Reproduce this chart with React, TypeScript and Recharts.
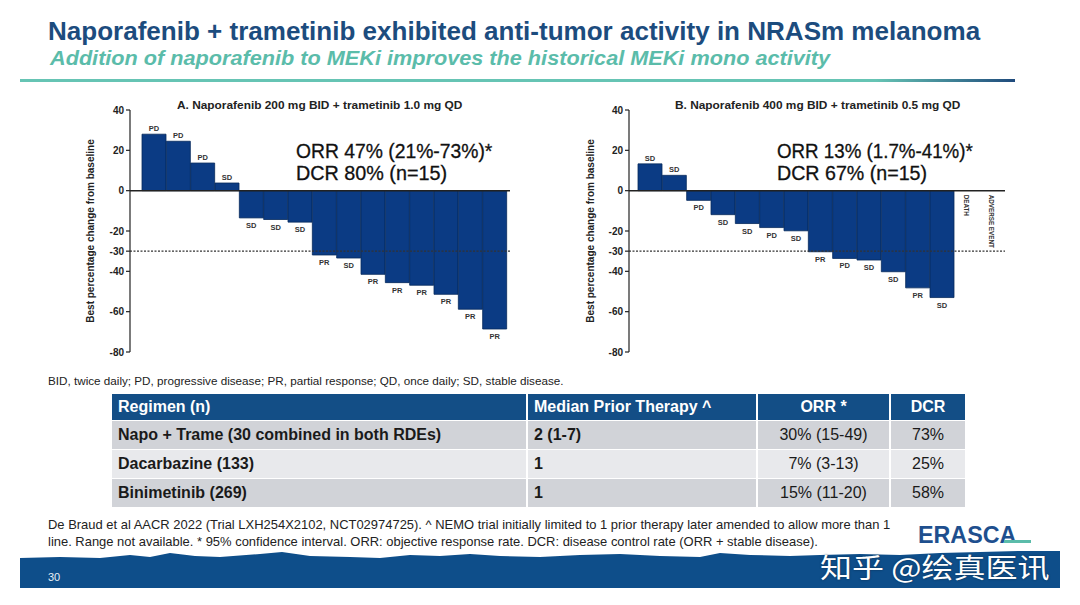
import React, { useLayoutEffect, useRef, useState } from 'react';
import { BarChart, Bar, XAxis, YAxis, ReferenceLine, ReferenceDot, LabelList } from 'recharts';

const FONT = '"Liberation Sans", Arial, sans-serif';

// best % change from baseline
const aChange = [28, 24.5, 13.7, 3.8, -13.5, -14.3, -15.6, -31.9, -33.4, -41.5, -45.6, -46.9, -51.4, -58.8, -68.6];
const aResponse = ['PD', 'PD', 'PD', 'SD', 'SD', 'SD', 'SD', 'PR', 'SD', 'PR', 'PR', 'PR', 'PR', 'PR', 'PR'];

// last two patients not evaluable (no bar)
const bChange = [13.3, 7.6, -4.8, -11.9, -16.3, -18.3, -19.9, -30.3, -33.6, -34.4, -40.2, -48.2, -53, null, null];
const bResponse = ['SD', 'SD', 'PD', 'SD', 'SD', 'PD', 'SD', 'PR', 'PD', 'SD', 'SD', 'PR', 'SD', '', ''];
const bNotes = ['', '', '', '', '', '', '', '', '', '', '', '', '', 'DEATH', 'ADVERSE EVENT'];

const yTicks = [40, 20, 0, -20, -30, -40, -60, -80];

const tableHead = ['Regimen (n)', 'Median Prior Therapy ^', 'ORR *', 'DCR'];
const regimens = ['Napo + Trame (30 combined in both RDEs)', 'Dacarbazine (133)', 'Binimetinib (269)'];
const priorTherapy = ['2 (1-7)', '1', '1'];
const orr = ['30% (15-49)', '7% (3-13)', '15% (11-20)'];
const dcr = ['73%', '25%', '58%'];

type Row = { id: string; change: number | null; resp: string; note: string };

const rowsA: Row[] = aChange.map((c, i) => ({ id: 'A' + (i + 1), change: c, resp: aResponse[i], note: '' }));
const rowsB: Row[] = bChange.map((c, i) => ({ id: 'B' + (i + 1), change: c, resp: bResponse[i], note: bNotes[i] }));

// stretches/squeezes a single line of text to an exact width
const Fit = ({ w, style, children }: { w: number; style?: React.CSSProperties; children: React.ReactNode }) => {
  const ref = useRef<HTMLSpanElement>(null);
  const [s, setS] = useState(1);
  useLayoutEffect(() => {
    const nat = ref.current ? ref.current.offsetWidth : 0;
    if (nat) setS(w / nat);
  }, [w]);
  return (
    <span
      ref={ref}
      style={{
        display: 'inline-block',
        whiteSpace: 'nowrap',
        transformOrigin: 'left center',
        transform: `scaleX(${s})`,
        lineHeight: 1,
        ...style,
      }}
    >
      {children}
    </span>
  );
};

const At = ({ x, y, children }: { x: number; y: number; children: React.ReactNode }) => (
  <div style={{ position: 'absolute', left: x, top: y }}>{children}</div>
);

const respLabel = (rows: Row[]) => (p: any) => {
  const r = rows[p.index];
  if (!r || r.change == null) return null;
  const x = Number(p.x), y = Number(p.y), w = Number(p.width), h = Number(p.height);
  const cx = x + w / 2;
  const top = Math.min(y, y + h);
  const bot = Math.max(y, y + h);
  const common = { fontSize: 7.5, fontWeight: 700, fill: '#333', fontFamily: FONT };
  if (r.change >= 0) {
    return <text x={cx} y={top - 3} textAnchor="middle" {...common}>{r.resp}</text>;
  }
  return <text x={cx} y={bot + 10} textAnchor="middle" {...common}>{r.resp}</text>;
};

// vertical note for patients without a measurement, hung just under the zero line
const noteLabel = (text: string) => (p: any) => {
  const vb = p.viewBox || {};
  const cx = vb.x + vb.width / 2;
  const cy = vb.y + vb.height / 2;
  return (
    <text
      transform={`translate(${cx - 2.3},${cy + 4}) rotate(90)`}
      fontSize={6.3}
      fontWeight={700}
      fill="#333"
      fontFamily={FONT}
    >
      {text}
    </text>
  );
};

const yLabel = (p: any) => {
  const vb = p.viewBox || {};
  const x = vb.x + 13.5;
  const y = vb.y + vb.height / 2;
  return (
    <text
      x={x}
      y={y}
      transform={`rotate(-90, ${x}, ${y})`}
      textAnchor="middle"
      fontSize={10}
      fontWeight={700}
      fill="#222"
      fontFamily={FONT}
    >
      Best percentage change from baseline
    </text>
  );
};

const Waterfall = ({ rows, left, yw, right, padL, padR }: { rows: Row[]; left: number; yw: number; right: number; padL: number; padR: number }) => (
  <div style={{ position: 'absolute', left, top: 95 }}>
    <BarChart width={440} height={270} data={rows} margin={{ top: 15, right, bottom: 13, left: 0 }} barCategoryGap={0}>
      <XAxis dataKey="id" hide padding={{ left: padL, right: padR }} />
      <YAxis
        domain={[-80, 40]}
        ticks={yTicks}
        interval={0}
        width={yw}
        tickSize={4}
        tick={{ fontSize: 10, fontWeight: 700, fill: '#222', fontFamily: FONT }}
        axisLine={{ stroke: '#222', strokeWidth: 1.2 }}
        tickLine={{ stroke: '#222', strokeWidth: 1.2 }}
        label={yLabel}
      />
      <ReferenceLine y={-30} stroke="#333" strokeWidth={1.2} strokeDasharray="2 1.5" />
      <Bar dataKey="change" fill="#0b3b84" stroke="#06295c" strokeWidth={0.8} isAnimationActive={false}>
        <LabelList dataKey="resp" content={respLabel(rows)} />
      </Bar>
      <ReferenceLine y={0} stroke="#222" strokeWidth={1.5} />
      {rows
        .filter((r) => r.note)
        .map((r) => (
          <ReferenceDot
            key={r.id}
            x={r.id}
            y={0}
            r={1}
            fill="none"
            stroke="none"
            label={noteLabel(r.note)}
          />
        ))}
    </BarChart>
  </div>
);

const cell = (extra: React.CSSProperties): React.CSSProperties => ({
  borderLeft: '2px solid #fff',
  borderRight: '2px solid #fff',
  borderTop: '1px solid #fff',
  padding: '0 6px',
  whiteSpace: 'nowrap',
  ...extra,
});

export default function App() {
  return (
    <div
      style={{
        position: 'absolute',
        left: 0,
        top: 0,
        width: 1080,
        height: 605,
        background: '#fff',
        overflow: 'hidden',
        fontFamily: FONT,
      }}
    >
      <At x={48} y={18}>
        <Fit w={932} style={{ fontSize: 26, fontWeight: 700, color: '#1c4c7e' }}>
          Naporafenib + trametinib exhibited anti-tumor activity in NRASm melanoma
        </Fit>
      </At>
      <At x={50} y={48}>
        <Fit w={780} style={{ fontSize: 20, fontWeight: 700, fontStyle: 'italic', color: '#5bbcaa' }}>
          Addition of naporafenib to MEKi improves the historical MEKi mono activity
        </Fit>
      </At>
      <div
        style={{
          position: 'absolute',
          left: 20,
          top: 79,
          width: 995,
          height: 3,
          background: 'linear-gradient(to right, #66c4b4 0%, #66c4b4 86%, #1f4a7c 100%)',
        }}
      />

      <Waterfall rows={rowsA} left={80} yw={50} right={10} padL={12} padR={3} />
      <Waterfall rows={rowsB} left={580} yw={49} right={15} padL={9} padR={2} />

      <At x={177} y={95}>
        <Fit w={285} style={{ fontSize: 11, fontWeight: 700, color: '#222' }}>
          A. Naporafenib 200 mg BID + trametinib 1.0 mg QD
        </Fit>
      </At>
      <At x={675} y={95}>
        <Fit w={285} style={{ fontSize: 11, fontWeight: 700, color: '#222' }}>
          B. Naporafenib 400 mg BID + trametinib 0.5 mg QD
        </Fit>
      </At>

      <At x={296} y={142}>
        <Fit w={196} style={{ fontSize: 19.5, color: '#111', WebkitTextStroke: '0.3px #111' }}>ORR 47% (21%-73%)*</Fit>
      </At>
      <At x={296} y={164}>
        <Fit w={151} style={{ fontSize: 19.5, color: '#111', WebkitTextStroke: '0.3px #111' }}>DCR 80% (n=15)</Fit>
      </At>
      <At x={777} y={142}>
        <Fit w={196} style={{ fontSize: 19.5, color: '#111', WebkitTextStroke: '0.3px #111' }}>ORR 13% (1.7%-41%)*</Fit>
      </At>
      <At x={777} y={164}>
        <Fit w={150} style={{ fontSize: 19.5, color: '#111', WebkitTextStroke: '0.3px #111' }}>DCR 67% (n=15)</Fit>
      </At>

      <At x={48} y={371}>
        <Fit w={515} style={{ fontSize: 11, color: '#222' }}>
          BID, twice daily; PD, progressive disease; PR, partial response; QD, once daily; SD, stable disease.
        </Fit>
      </At>

      <table
        style={{
          position: 'absolute',
          left: 110,
          top: 394,
          width: 855,
          borderCollapse: 'collapse',
          tableLayout: 'fixed',
          fontFamily: FONT,
          fontSize: 16,
          color: '#1a1a1a',
        }}
      >
        <colgroup>
          <col style={{ width: 416 }} />
          <col style={{ width: 230 }} />
          <col style={{ width: 133 }} />
          <col style={{ width: 76 }} />
        </colgroup>
        <thead>
          <tr style={{ height: 26, background: '#134e86', color: '#fff', fontWeight: 700 }}>
            {tableHead.map((h, i) => (
              <td key={h} style={cell({ textAlign: i >= 2 ? 'center' : 'left', borderTop: 'none' })}>
                {h}
              </td>
            ))}
          </tr>
        </thead>
        <tbody>
          {regimens.map((r, i) => (
            <tr key={r} style={{ height: 29, background: i % 2 === 0 ? '#d1d3d8' : '#e8e9ec' }}>
              <td style={cell({ fontWeight: 700 })}>{r}</td>
              <td style={cell({ fontWeight: 700 })}>{priorTherapy[i]}</td>
              <td style={cell({ textAlign: 'center' })}>{orr[i]}</td>
              <td style={cell({ textAlign: 'center' })}>{dcr[i]}</td>
            </tr>
          ))}
        </tbody>
      </table>

      <At x={48} y={515}>
        <Fit w={842} style={{ fontSize: 13, color: '#222' }}>
          De Braud et al AACR 2022 (Trial LXH254X2102, NCT02974725). ^ NEMO trial initially limited to 1 prior therapy later amended to allow more than 1
        </Fit>
      </At>
      <At x={48} y={532}>
        <Fit w={770} style={{ fontSize: 13, color: '#222' }}>
          line. Range not available. * 95% confidence interval. ORR: objective response rate. DCR: disease control rate (ORR + stable disease).
        </Fit>
      </At>

      <svg style={{ position: 'absolute', left: 20, top: 546 }} width={1040} height={42}>
        <path
          d="M0,12 L40,11 L80,12 L110,9 L130,11 L150,7 L175,10 L200,11 L240,8 L262,6 L290,10 L330,11 L360,12 L390,9 L420,10 L450,8 L480,10 L520,11 L560,9 L600,8 L640,10 L680,11 L700,7 L730,9 L770,10 L800,9 L840,8 L880,9 L920,7 L960,6 L1000,5 L1040,5 L1040,42 L0,42 Z"
          fill="#0e4e8a"
        />
      </svg>
      <At x={48} y={567}>
        <span style={{ fontSize: 11, color: '#e8eef5' }}>30</span>
      </At>

      <At x={918} y={523}>
        <Fit w={98} style={{ fontSize: 24, fontWeight: 700, color: '#1e4f8e' }}>ERASCA</Fit>
      </At>
      <div style={{ position: 'absolute', left: 1004, top: 540, width: 27, height: 3, background: '#5bbcaa' }} />

      <At x={820} y={553}>
        <Fit
          w={230}
          style={{
            fontSize: 27,
            color: '#fff',
            fontFamily: '"Noto Sans CJK SC", sans-serif',
            textShadow: '0 0 2px rgba(0,0,0,0.45)',
          }}
        >
          知乎 @绘真医讯
        </Fit>
      </At>
    </div>
  );
}
